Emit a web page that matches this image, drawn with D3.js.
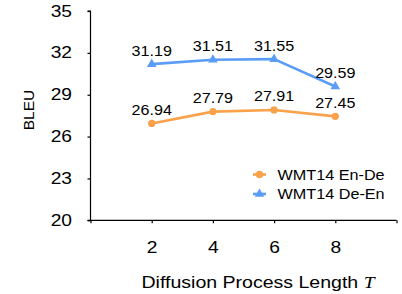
<!DOCTYPE html>
<html><head><meta charset="utf-8">
<script src="https://cdn.jsdelivr.net/npm/d3@7"></script>
<style>body{margin:0;background:#fff}svg{display:block}text{font-family:"Liberation Sans",Arial,Helvetica,sans-serif;fill:#000}</style>
</head><body>
<script>
const steps = [2, 4, 6, 8];
const enDe = [26.94, 27.79, 27.91, 27.45];
const deEn = [31.19, 31.51, 31.55, 29.59];
const yTicks = [20, 23, 26, 29, 32, 35];
const xTickLabels = [2, 4, 6, 8];
const seriesNames = ["WMT14 En-De", "WMT14 De-En"];
const colors = ["#F9A24B", "#5B9CF6"];

const W = 402, H = 294;
const svg = d3.select("body").append("svg").attr("width", W).attr("height", H);
const x = d3.scaleLinear().domain([0, 10]).range([90.5, 396.5]);
const y = d3.scaleLinear().domain([20, 35]).range([220.3, 11]);

// horizontal stretch of a text about its anchor point
function stretch(sel, sx) {
  sel.each(function () {
    const t = d3.select(this);
    const ax = +(t.attr("x") || 0), ay = +(t.attr("y") || 0);
    t.attr("transform", `translate(${ax},${ay}) scale(${sx},1) translate(${-ax},${-ay})`);
  });
}

// axes
const yAxis = d3.axisLeft(y).tickValues(yTicks).tickSize(3).tickPadding(15.5);
const gy = svg.append("g").attr("transform", `translate(${x(0)},0)`).call(yAxis);
gy.selectAll("text").style("font-size", "16px").call(stretch, 1.2);
gy.select(".domain").attr("stroke", "#000").attr("stroke-width", 1.2).attr("d", `M-3,${y(35)}H0V${y(20)}H-3`);

const xAxis = d3.axisBottom(x).tickValues([0, 2, 4, 6, 8, 10]).tickSize(3).tickPadding(18.5)
  .tickFormat(d => xTickLabels.includes(d) ? d : "");
const gx = svg.append("g").attr("transform", `translate(0,${y(20)})`).call(xAxis);
gx.selectAll("text").style("font-size", "16px").call(stretch, 1.2);
gx.select(".domain").attr("stroke", "#000").attr("stroke-width", 1.2).attr("d", `M${x(0)},0H${x(10)}`);
svg.selectAll(".tick line").attr("stroke", "#000").attr("stroke-width", 1.2);

// axis titles
svg.append("text").attr("transform", "translate(34,110) rotate(-90)").attr("text-anchor", "middle")
  .style("font-size", "15.5px").text("BLEU");
const xt = svg.append("text").attr("x", 258).attr("y", 288).attr("text-anchor", "middle").style("font-size", "17px");
xt.append("tspan").text("Diffusion Process Length ");
xt.append("tspan").style("font-family", "'Liberation Serif','DejaVu Serif',serif").style("font-style", "italic").text("T");
xt.call(stretch, 1.15);

const series = [enDe, deEn];
const line = d3.line().x((d, i) => x(steps[i])).y(d => y(d));
series.forEach((vals, s) => {
  svg.append("path").datum(vals).attr("d", line).attr("fill", "none")
    .attr("stroke", colors[s]).attr("stroke-width", 2.6).attr("stroke-linejoin", "round");
  const sym = d3.symbol().type(s === 0 ? d3.symbolCircle : d3.symbolTriangle).size(s === 0 ? 42 : 40);
  svg.selectAll(null).data(vals).enter().append("path")
    .attr("d", sym).attr("fill", colors[s])
    .attr("transform", (d, i) => `translate(${x(steps[i])},${y(d)})`);
  svg.selectAll(null).data(vals).enter().append("text")
    .attr("x", (d, i) => x(steps[i])).attr("y", d => y(d) - 8.5)
    .attr("text-anchor", "middle").style("font-size", "15.5px")
    .text(d => d.toFixed(2)).call(stretch, 1.04);
});

// legend
seriesNames.forEach((name, s) => {
  const ly = 174.5 + s * 19.5;
  const g = svg.append("g").attr("transform", `translate(0,${ly})`);
  g.append("line").attr("x1", 253).attr("x2", 266).attr("y1", 0).attr("y2", 0)
    .attr("stroke", colors[s]).attr("stroke-width", 2.6);
  g.append("path").attr("d", d3.symbol().type(s === 0 ? d3.symbolCircle : d3.symbolTriangle).size(s === 0 ? 42 : 40))
    .attr("transform", "translate(259.5,0)").attr("fill", colors[s]);
  g.append("text").attr("x", 277.5).attr("y", 5.3).style("font-size", "15px").text(name).call(stretch, 1.08);
});
</script>
</body></html>
